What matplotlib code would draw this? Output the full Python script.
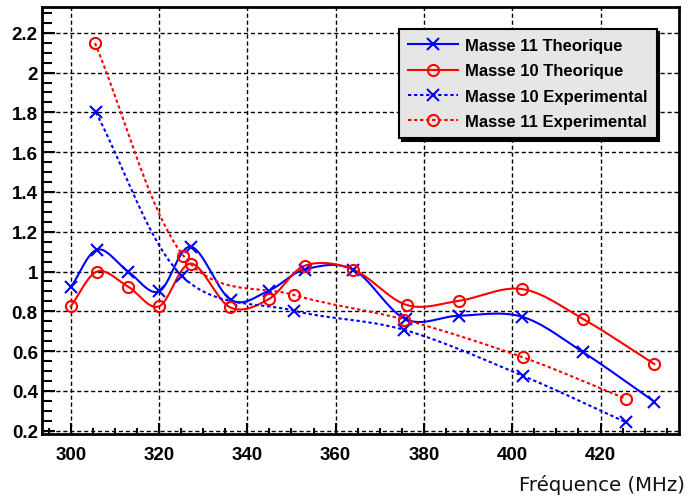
import numpy as np
import matplotlib
matplotlib.use("Agg")
import matplotlib.pyplot as plt
from matplotlib.lines import Line2D

# ---- data ----
m11_th_x = [300, 306, 313, 320, 327.2, 336.3, 344.9, 353, 364, 375.9, 388, 402.2, 416.1, 432.2]
m11_th_y = [0.92, 1.11, 1.00, 0.90, 1.125, 0.857, 0.904, 1.01, 1.01, 0.76, 0.778, 0.773, 0.594, 0.346]

m10_th_x = [300, 306, 313, 320, 327.2, 336.1, 344.9, 353.1, 364, 376.1, 388, 402.2, 416.1, 432.2]
m10_th_y = [0.825, 1.0, 0.924, 0.825, 1.04, 0.82, 0.862, 1.03, 1.01, 0.832, 0.853, 0.912, 0.761, 0.535]

m10_ex_x = [305.7, 325.1, 350.6, 375.5, 402.4, 425.8]
m10_ex_y = [1.80, 0.98, 0.803, 0.707, 0.476, 0.242]

m11_ex_x = [305.5, 325.5, 350.6, 375.6, 402.4, 425.8]
m11_ex_y = [2.148, 1.08, 0.882, 0.758, 0.569, 0.36]

labels = ["Masse 11 Theorique", "Masse 10 Theorique",
          "Masse 10 Experimental", "Masse 11 Experimental"]
x_ticks = [300, 320, 340, 360, 380, 400, 420]
y_ticks = [0.2, 0.4, 0.6, 0.8, 1.0, 1.2, 1.4, 1.6, 1.8, 2.0, 2.2]
y_tick_labels = ["0.2", "0.4", "0.6", "0.8", "1", "1.2", "1.4", "1.6", "1.8", "2", "2.2"]
x_label = "Fréquence (MHz)"


def smooth(x, y, n=40):
    P = np.column_stack([x, y]).astype(float)
    P = np.vstack([2 * P[0] - P[1], P, 2 * P[-1] - P[-2]])
    out = []
    t = np.linspace(0, 1, n)[:, None]
    for i in range(1, len(P) - 2):
        p0, p1, p2, p3 = P[i - 1], P[i], P[i + 1], P[i + 2]
        seg = 0.5 * (2 * p1 + (-p0 + p2) * t + (2 * p0 - 5 * p1 + 4 * p2 - p3) * t ** 2
                     + (-p0 + 3 * p1 - 3 * p2 + p3) * t ** 3)
        out.append(seg if i == 1 else seg[1:])
    S = np.vstack(out)
    return S[:, 0], S[:, 1]


W, H = 689, 502
fig = plt.figure(figsize=(W / 100, H / 100), dpi=100)
L, R, T, B = 42, 679, 8.3, 434.5
ax = fig.add_axes([L / W, (H - B) / H, (R - L) / W, (B - T) / H])
ax.set_xlim(293.5, 437.78)
ax.set_ylim(0.186, 2.328)

BLUE = (0, 0, 1)
RED = (1, 0, 0)
dot = (0, (1.6, 1.3))

series = [
    (m11_th_x, m11_th_y, BLUE, "-", "x"),
    (m10_th_x, m10_th_y, RED, "-", "o"),
    (m10_ex_x, m10_ex_y, BLUE, dot, "x"),
    (m11_ex_x, m11_ex_y, RED, dot, "o"),
]
handles = []
for (xs, ys, c, ls, mk), lab in zip(series, labels):
    sx, sy = smooth(xs, ys)
    ax.plot(sx, sy, color=c, lw=1.5, ls=ls, zorder=3)
    ms = 9 if mk == "x" else 8
    ax.plot(xs, ys, ls="none", marker=mk, ms=ms, mec=c, mfc="none", mew=1.5, zorder=4)
    handles.append(Line2D([], [], color=c, lw=1.5, ls=ls, marker=mk, ms=ms,
                          mec=c, mfc="none", mew=1.5))

# grid
ax.set_xticks(x_ticks)
ax.set_yticks(y_ticks)
ax.set_yticklabels(y_tick_labels)
ax.set_xticks(np.arange(295, 437, 5), minor=True)
ax.set_yticks(np.arange(0.2, 2.33, 0.05), minor=True)
ax.grid(True, which="major", color="black", lw=1.0, ls=(0, (3, 2)), zorder=1)

for s in ax.spines.values():
    s.set_linewidth(2)
ax.tick_params(which="both", direction="in", top=False, right=False, width=1.5)
ax.tick_params(axis="y", which="major", length=9, pad=3)
ax.tick_params(axis="y", which="minor", length=7)
ax.tick_params(axis="x", which="major", length=8, pad=9)
ax.tick_params(axis="x", which="minor", length=4)
for lbl in ax.get_xticklabels() + ax.get_yticklabels():
    lbl.set_fontfamily("Liberation Sans")
    lbl.set_fontweight("bold")
    lbl.set_fontsize(13.5)

fig.text(685 / W, (H - 485) / H, x_label, ha="right", va="center",
         fontsize=14.2, family="DejaVu Sans", color="#111111")

leg = ax.legend(handles, labels, loc="upper left",
                bbox_to_anchor=(399 / W, (H - 30) / H), bbox_transform=fig.transFigure,
                frameon=True, fancybox=False, framealpha=1,
                facecolor="#e6e6e6", edgecolor="black",
                shadow={"color": "black", "alpha": 1},
                prop={"family": "Liberation Sans", "weight": "bold", "size": 12},
                handlelength=3.0, handletextpad=0.4, labelspacing=0.62,
                borderpad=0.55, borderaxespad=0)
leg.get_frame().set_linewidth(1.5)
leg.set_zorder(10)

fig.savefig("out.png", dpi=100)
